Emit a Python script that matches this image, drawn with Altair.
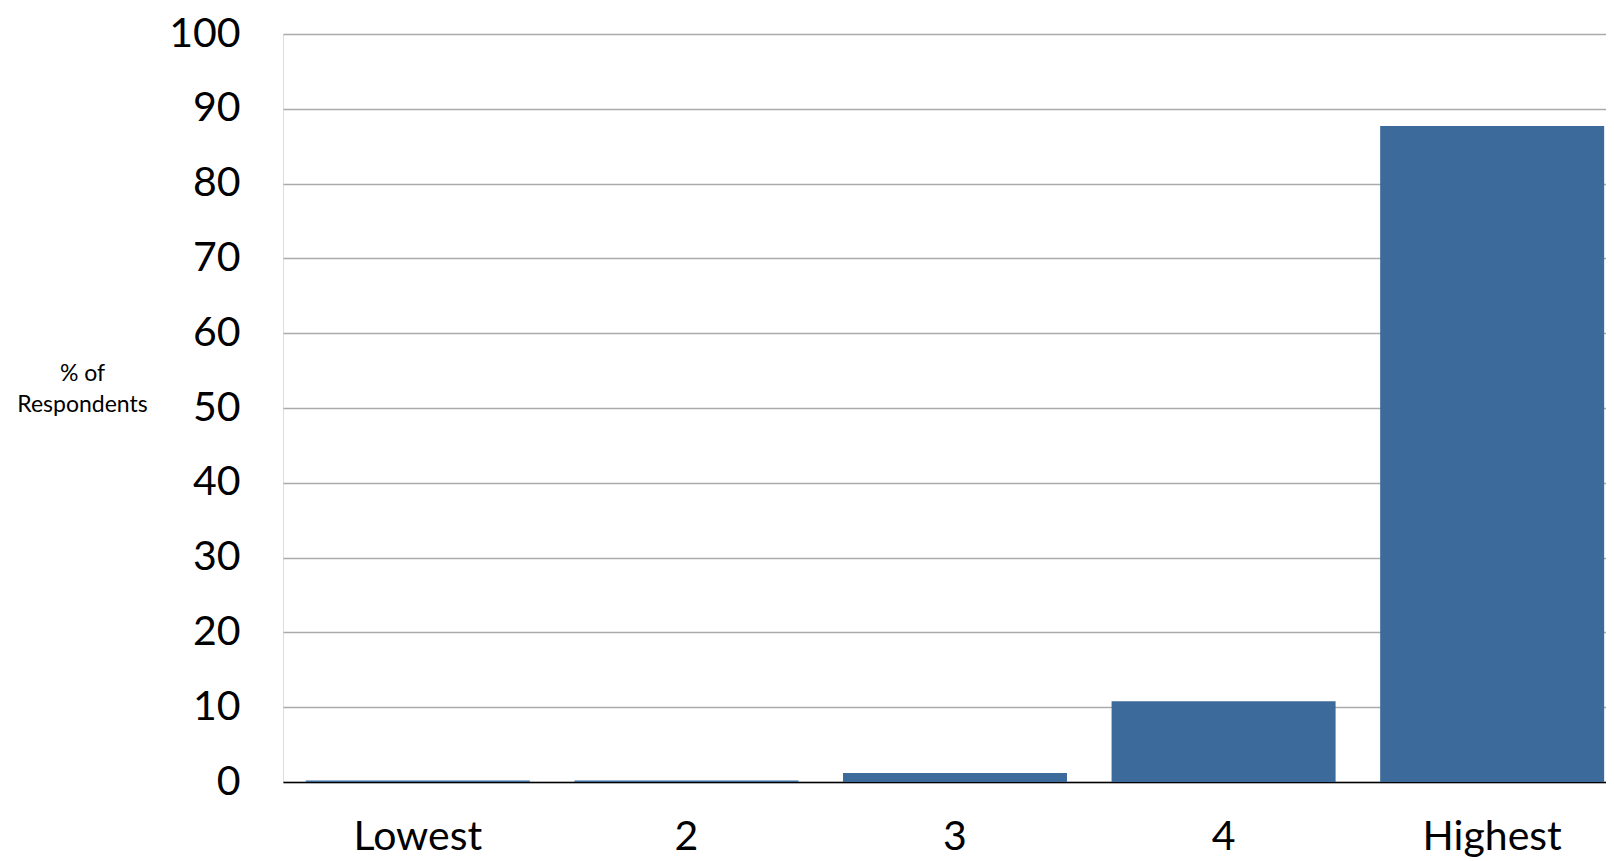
import altair as alt
import pandas as pd

categories = ["Lowest", "2", "3", "4", "Highest"]
values = [0.2, 0.2, 1.2, 10.8, 87.7]
y_ticks = [0, 10, 20, 30, 40, 50, 60, 70, 80, 90, 100]

df = pd.DataFrame({"cat": categories, "pct": values})

FONT = "Lato"

chart = alt.Chart(df).mark_bar(color="#3C6A9A").encode(
    x=alt.X(
        "cat:N",
        sort=categories,
        scale=alt.Scale(range=[0, 1344], paddingInner=0.166, paddingOuter=0.085),
        axis=alt.Axis(
            title=None,
            labelAngle=0,
            labelFont=FONT,
            labelFontSize=41,
            labelColor="#000000",
            labelBaseline="alphabetic",
            labelPadding=67,
            ticks=False,
            tickSize=0,
            domainColor="#000000",
            domainWidth=1.5,
            grid=False,
        ),
    ),
    y=alt.Y(
        "pct:Q",
        scale=alt.Scale(domain=[0, 100], nice=False),
        axis=alt.Axis(
            title=["% of", "Respondents"],
            titleFont=FONT,
            titleFontSize=23,
            titleFontWeight="normal",
            titleColor="#000000",
            titleAngle=0,
            titleAlign="center",
            titleBaseline="alphabetic",
            titleLineHeight=31,
            titleX=-201,
            titleY=346,
            values=y_ticks,
            labelFont=FONT,
            labelFontSize=41,
            labelColor="#000000",
            labelPadding=43,
            ticks=False,
            tickSize=0,
            domain=False,
            grid=True,
            gridColor="#AAAAAA",
            gridWidth=1.5,
        ),
    ),
).properties(
    width=1323,
    height=748,
    autosize=alt.AutoSizeParams(type="none"),
    padding={"left": 275, "top": 26, "right": 0, "bottom": 82},
).configure_view(stroke=None).configure(background="#FFFFFF")

chart.save("out.html", embed_options={"renderer": "svg", "actions": False})
